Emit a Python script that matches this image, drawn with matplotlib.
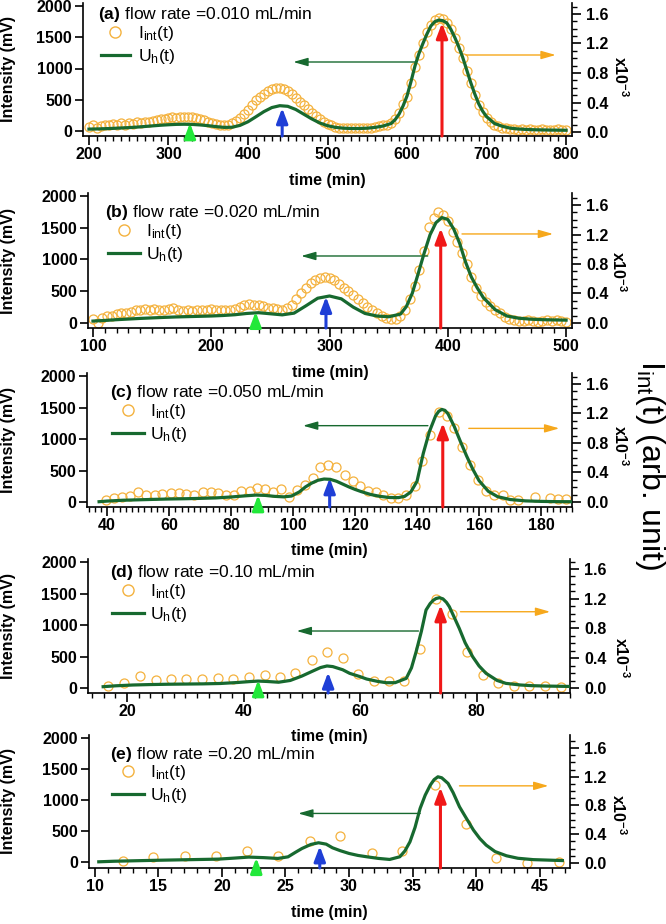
import numpy as np
import matplotlib
matplotlib.use('Agg')
import matplotlib.pyplot as plt
from matplotlib.lines import Line2D
from matplotlib.ticker import MultipleLocator

plt.rcParams['font.family'] = ['Liberation Sans', 'DejaVu Sans']
plt.rcParams['mathtext.fontset'] = 'custom'
plt.rcParams['mathtext.rm'] = 'Liberation Sans'
plt.rcParams['mathtext.bf'] = 'Liberation Sans:bold'
plt.rcParams['mathtext.it'] = 'Liberation Sans:italic'

# ---------------- data ----------------
flow_labels = ['0.010', '0.020', '0.050', '0.10', '0.20']
panel_tags = ['a', 'b', 'c', 'd', 'e']

# (a) 0.010 mL/min
t_a_circ = np.arange(200, 801, 5)
i_a = [0.07, 0.09, 0.05, 0.08, 0.10, 0.09, 0.11, 0.10, 0.12, 0.10, 0.12, 0.11, 0.13, 0.12, 0.14, 0.13, 0.15, 0.16, 0.17, 0.18,
       0.19, 0.20, 0.19, 0.21, 0.20, 0.21, 0.20, 0.19, 0.18, 0.16, 0.14, 0.12, 0.11, 0.10, 0.09, 0.10, 0.12, 0.15, 0.19, 0.25,
       0.30, 0.37, 0.43, 0.48, 0.52, 0.56, 0.58, 0.59, 0.59, 0.58, 0.55, 0.51, 0.46, 0.41, 0.36, 0.31, 0.26, 0.22, 0.18, 0.14,
       0.11, 0.09, 0.07, 0.06, 0.05, 0.05, 0.06, 0.05, 0.05, 0.06, 0.06, 0.06, 0.07, 0.08, 0.09, 0.10, 0.12, 0.17, 0.26, 0.38,
       0.48, 0.66, 0.88, 1.05, 1.20, 1.36, 1.45, 1.52, 1.55, 1.53, 1.48, 1.39, 1.28, 1.14, 1.00, 0.83, 0.66, 0.50, 0.37, 0.27,
       0.19, 0.14, 0.10, 0.08, 0.06, 0.05, 0.04, 0.04, 0.03, 0.04, 0.03, 0.04, 0.03, 0.03, 0.04, 0.03, 0.03, 0.03, 0.04, 0.03, 0.03]
t_a_line = [200, 210, 220, 230, 240, 250, 260, 270, 280, 290, 300, 310, 320, 330, 340, 350, 360, 370, 380, 390,
            400, 410, 420, 430, 440, 450, 460, 470, 480, 490, 500, 510, 520, 530, 540, 550, 560, 570, 580,
            585, 590, 595, 600, 605, 610, 615, 620, 625, 630, 635, 640, 645, 650, 655, 660, 665, 670, 675, 680,
            685, 690, 695, 700, 710, 720, 730, 740, 750, 760, 780, 800]
u_a = [30, 33, 37, 42, 48, 54, 62, 72, 82, 92, 100, 106, 108, 105, 97, 85, 70, 58, 60, 90,
       148, 228, 310, 375, 405, 395, 345, 270, 195, 130, 85, 58, 45, 40, 40, 45, 58, 80, 120,
       180, 270, 400, 560, 790, 1040, 1240, 1400, 1550, 1680, 1750, 1775, 1765, 1730, 1630, 1500, 1350, 1180, 980, 780,
       600, 440, 320, 230, 120, 75, 45, 32, 25, 20, 15, 12]

# (b) 0.020 mL/min
t_b_circ = np.arange(100, 501, 4)
i_b = [0.06, 0.00, 0.07, 0.09, 0.10, 0.12, 0.13, 0.14, 0.15, 0.17,
       0.18, 0.19, 0.18, 0.19, 0.18, 0.17, 0.19, 0.20, 0.17, 0.16,
       0.17, 0.16, 0.18, 0.17, 0.18, 0.19, 0.17, 0.18, 0.17, 0.18,
       0.19, 0.22, 0.25, 0.26, 0.25, 0.24, 0.23, 0.21, 0.20, 0.19,
       0.18, 0.20, 0.25, 0.32, 0.40, 0.48, 0.54, 0.58, 0.61, 0.62,
       0.61, 0.58, 0.53, 0.48, 0.43, 0.38, 0.32, 0.27, 0.22, 0.18,
       0.14, 0.10, 0.07, 0.05, 0.06, 0.10, 0.18, 0.32, 0.50, 0.72,
       0.98, 1.30, 1.42, 1.50, 1.47, 1.38, 1.24, 1.10, 0.95, 0.80,
       0.62, 0.48, 0.37, 0.29, 0.23, 0.17, 0.13, 0.08, 0.06, 0.04,
       0.03, 0.03, 0.04, 0.03, 0.02, 0.03, 0.04, 0.03, 0.04, 0.03, 0.02]
t_b_line = [100, 110, 120, 130, 140, 150, 160, 170, 180, 190, 200, 210, 220, 230, 240, 250, 260, 270, 280, 290,
            300, 310, 320, 330, 340, 350, 360, 365, 370, 375, 380, 385, 390, 395, 400, 405, 410, 415, 420, 425,
            430, 440, 450, 460, 470, 480, 490, 500]
u_b = [30, 40, 52, 62, 72, 80, 88, 95, 100, 105, 110, 118, 130, 150, 162, 145, 128, 155, 270, 390,
       425, 380, 250, 150, 110, 98, 140, 260, 470, 780, 1100, 1390, 1580, 1660, 1630, 1480, 1255, 960, 720, 550,
       400, 210, 110, 75, 60, 52, 48, 45]

# (c) 0.050 mL/min
t_c_circ = [39.7, 42.3, 44.9, 47.5, 49.9, 52.6, 55.3, 57.8, 60.5, 63.2, 65.6, 68.1, 70.8, 73.5, 75.9, 78.4, 80.8,
            83.3, 86.0, 88.5, 90.9, 93.6, 96.1, 98.7, 101.2, 103.7, 106.3, 108.8, 111.3, 113.9, 116.6, 119.3,
            121.5, 124.2, 126.6, 129.1, 131.6, 134.0, 136.4, 139.2, 141.6, 144.3, 147.0, 149.7, 151.9, 154.4,
            157.1, 159.8, 162.2, 164.9, 167.6, 170.0, 172.5, 177.9, 182.8, 185.5, 188.0]
i_c = [0.03, 0.06, 0.07, 0.08, 0.13, 0.10, 0.09, 0.11, 0.12, 0.12, 0.11, 0.10, 0.13, 0.13, 0.12, 0.09, 0.10,
       0.15, 0.15, 0.19, 0.17, 0.14, 0.17, 0.07, 0.16, 0.23, 0.32, 0.48, 0.50, 0.48, 0.37, 0.28,
       0.21, 0.15, 0.13, 0.09, 0.05, 0.06, 0.09, 0.21, 0.55, 0.91, 1.22, 1.16, 1.00, 0.75,
       0.50, 0.30, 0.15, 0.09, 0.10, 0.03, 0.03, 0.07, 0.06, 0.04, 0.04]
t_c_line = [37.4, 40, 45, 50, 55, 60, 65, 70, 75, 80, 85, 88, 91, 94, 97, 99.5, 102, 104, 106, 108,
            110, 112, 114, 116, 118, 120, 122, 125, 128, 131, 134, 136, 138, 140, 142, 144, 146, 147, 148, 149, 150, 152,
            154, 156, 158, 160, 163, 166, 170, 175, 180, 185, 189.5]
u_c = [5, 15, 28, 35, 42, 48, 52, 58, 65, 80, 100, 110, 105, 90, 82, 95, 160, 240, 300, 345,
       365, 360, 330, 285, 240, 200, 165, 120, 90, 72, 70, 90, 160, 330, 770, 1120, 1370, 1440, 1470, 1455, 1400, 1200,
       960, 730, 520, 340, 170, 85, 40, 18, 10, 6, 5]

# (d) 0.10 mL/min
t_d_circ = [16.8, 19.5, 22.2, 24.9, 27.6, 30.2, 32.9, 35.6, 38.2, 40.9, 43.6, 46.2, 48.9, 51.7, 54.3,
            57.0, 59.6, 62.3, 64.9, 67.6, 70.3, 73.0, 75.7, 78.3, 81.0, 83.7, 86.4, 89.0, 91.7, 94.4]
i_d = [0.03, 0.07, 0.16, 0.11, 0.12, 0.12, 0.12, 0.13, 0.12, 0.15, 0.17, 0.15, 0.20, 0.37, 0.48,
       0.40, 0.185, 0.095, 0.095, 0.095, 0.53, 1.19, 1.00, 0.49, 0.175, 0.07, 0.03, 0.03, 0.03, 0.02]
t_d_line = [15.9, 18, 21, 24, 27, 30, 33, 36, 39, 41, 42.5, 44, 46, 48, 50, 52, 53.2, 54.3, 55.3, 57, 58.2,
            60, 61.1, 63, 64.5, 66, 67.9, 68.8, 69.6, 70.5, 71.3, 72.0, 72.5, 73.0, 73.6, 74.2, 74.8, 75.3, 76.1, 77,
            78, 79.3, 80.4, 81.6, 83.5, 85, 87.5, 89.6, 92, 94.7, 96]
u_d = [21, 35, 48, 55, 60, 63, 66, 72, 88, 102, 110, 104, 92, 120, 190, 275, 325, 350, 340, 290, 233,
       180, 143, 105, 84, 85, 153, 320, 577, 900, 1238, 1340, 1390, 1420, 1434, 1415, 1360, 1291, 1130, 947,
       720, 497, 350, 233, 120, 74, 48, 37, 31, 27, 25]

# (e) 0.20 mL/min
t_e_circ = [12.2, 14.6, 17.1, 19.5, 22.0, 24.4, 26.9, 29.3, 31.8, 34.2, 36.8, 39.2, 41.6, 44.0, 46.5]
i_e = [0.03, 0.08, 0.10, 0.09, 0.16, 0.10, 0.30, 0.38, 0.135, 0.16, 1.09, 0.54, 0.065, 0.00, 0.02]
t_e_line = [10.3, 11.5, 13.2, 15, 17.1, 19.7, 21, 22.1, 23.3, 24.4, 25.2, 25.8, 26.3, 27, 27.6, 28.2, 28.7, 29.3,
            30.0, 30.7, 31.4, 32.3, 33.2, 34.0, 34.4, 34.8, 35.2, 35.6, 36.0, 36.4, 36.7, 37.0, 37.3, 37.8, 38.2,
            38.7, 39.2, 39.8, 40.3, 40.8, 41.5, 42.4, 43.3, 44.5, 46.8]
u_e = [5, 14, 22, 30, 38, 48, 65, 81, 72, 59, 85, 160, 220, 285, 312, 290, 231, 185,
       140, 108, 86, 60, 43, 86, 180, 327, 560, 866, 1080, 1242, 1330, 1376, 1360, 1269, 1120,
       892, 720, 516, 380, 274, 170, 102, 62, 40, 25]

circ_t = [t_a_circ, t_b_circ, t_c_circ, t_d_circ, t_e_circ]
circ_i = [i_a, i_b, i_c, i_d, i_e]
line_t = [t_a_line, t_b_line, t_c_line, t_d_line, t_e_line]
line_u = [u_a, u_b, u_c, u_d, u_e]

# peak markers (time, tip in mV)
green_t = [327, 237.5, 88.7, 42.5, 22.7]
green_tip = [128, 178, 111, 127, 70]
blue_t = [443, 297, 111.8, 54.5, 27.7]
blue_tip = [368, 414, 381, 249, 258]
red_t = [644, 394, 148.3, 73.8, 37.2]
red_tip = [1728, 1491, 1254, 1317, 1205]
# axis hint arrows: (from t, to t, level mV)
left_arrow = [(611, 457, 1104), (383, 276, 1055), (143.5, 103.2, 1212), (70.0, 49.1, 905), (35.6, 26.0, 785)]
right_arrow = [(674, 787, 1216), (412, 489, 1402), (156.7, 185.9, 1169), (77.2, 92.6, 1211), (38.7, 45.7, 1230)]

# ---------------- layout (pixels) ----------------
W, H = 666, 924
# x0, x1, y0, y1, xlim, xticks, minor step
boxes = [
    (83, 572, 3, 136, (192.5, 807.5), [200, 300, 400, 500, 600, 700, 800], 10),
    (88, 572, 193, 328, (95.8, 505.0), [100, 200, 300, 400, 500], 10),
    (87, 572, 373, 507, (33.5, 190.0), [40, 60, 80, 100, 120, 140, 160, 180], 2),
    (88, 570, 559, 693, (13.3, 96.0), [20, 40, 60, 80], 2),
    (89, 570, 735, 868, (9.53, 47.4), [10, 15, 20, 25, 30, 35, 40, 45], 1),
]
ylims = [(-80, 2048), (-79, 2047), (-79, 2048), (-79, 2048), (-95, 2050)]
y2lims = [(-0.054, 1.749), (-0.068, 1.763), (-0.068, 1.749), (-0.067, 1.734), (-0.07, 1.78)]
title_pos = [(98, 14), (105, 212), (110, 392), (110, 573), (110, 755)]
legend_pos = [(101, 24), (108, 222), (112, 402), (112, 582), (112, 763)]
x10_pos = [(620, 77), (618, 272), (620, 446), (621, 658), (618, 815)]

GREEN = '#17692f'
ORANGE = '#f4b23e'
ORANGE_AR = '#f6a81c'
LIME = '#22e83a'
BLUE = '#1f3fd6'
RED = '#f01818'
FS = 11.5
FS_LEG = 12.6

fig = plt.figure(figsize=(W / 100, H / 100), dpi=100)

for k in range(5):
    x0, x1, y0, y1, xlim, xt, mnr = boxes[k]
    ax = fig.add_axes([x0 / W, 1 - y1 / H, (x1 - x0) / W, (y1 - y0) / H])
    ax2 = ax.twinx()
    ax.set_zorder(ax2.get_zorder() + 1)
    ax.patch.set_visible(False)

    def fx(px):
        return (px - x0) / (x1 - x0)

    def fy(py):
        return (y1 - py) / (y1 - y0)

    ax2.plot(circ_t[k], circ_i[k], 'o', mfc='none', mec=ORANGE, ms=6.5, mew=0.9)
    ax.plot(line_t[k], line_u[k], '-', color=GREEN, lw=2.3)

    ax.set_xlim(*xlim)
    ax.set_ylim(*ylims[k])
    ax2.set_ylim(*y2lims[k])

    for s in ['top', 'right']:
        ax.spines[s].set_visible(False)
    for s in ['top', 'left', 'bottom']:
        ax2.spines[s].set_visible(False)
    for sp in [ax.spines['left'], ax.spines['bottom'], ax2.spines['right']]:
        sp.set_linewidth(1.2)

    ax.set_xticks(xt)
    ax.set_xticklabels([str(v) for v in xt], fontweight='bold', fontsize=FS)
    ax.xaxis.set_minor_locator(MultipleLocator(mnr))
    ax.set_yticks([0, 500, 1000, 1500, 2000])
    ax.set_yticklabels(['0', '500', '1000', '1500', '2000'], fontweight='bold', fontsize=FS)
    ax2.set_yticks([0, 0.4, 0.8, 1.2, 1.6])
    ax2.set_yticklabels(['0.0', '0.4', '0.8', '1.2', '1.6'], fontweight='bold', fontsize=FS)
    ax2.yaxis.set_minor_locator(MultipleLocator(0.1))

    ax.tick_params(axis='x', which='major', direction='out', length=6.5, width=1.2, pad=1.5, top=False)
    ax.tick_params(axis='x', which='minor', direction='out', length=3.6, width=1.0, top=False)
    ax.tick_params(axis='y', which='major', direction='out', length=5.8, width=1.2, pad=2, right=False)
    ax2.tick_params(axis='y', which='major', direction='out', length=6.5, width=1.2, pad=3.5)
    ax2.tick_params(axis='y', which='minor', direction='out', length=3.6, width=1.0)

    ax.set_xlabel('time (min)', fontweight='bold', fontsize=FS)
    ax.xaxis.label.set_va('center')
    ax.xaxis.set_label_coords(0.5, fy(y1 + 44))
    ax.set_ylabel('Intensity (mV)', fontweight='bold', fontsize=FS)
    ax.yaxis.set_label_coords(fx(16), 0.5)

    # title + legend
    tx, ty = title_pos[k]
    ax.text(fx(tx), fy(ty), r'$\mathbf{(' + panel_tags[k] + ')}$ flow rate =' + flow_labels[k] + ' mL/min',
            transform=ax.transAxes, fontsize=FS_LEG, va='center', ha='left')
    lx, ly = legend_pos[k]
    handles = [Line2D([], [], ls='none', marker='o', mfc='none', mec=ORANGE, ms=8, mew=1.0),
               Line2D([], [], color=GREEN, lw=2.3)]
    ax.legend(handles, [r'$\mathrm{I_{int}(t)}$', r'$\mathrm{U_h(t)}$'], loc='upper left',
              bbox_to_anchor=(fx(lx), fy(ly)), bbox_transform=ax.transAxes, frameon=False,
              borderpad=0, borderaxespad=0, handlelength=1.65 if k == 0 else 1.85,
              handletextpad=0.45 if k == 0 else 0.3, labelspacing=0.22, fontsize=FS_LEG)

    # peak arrows
    ylo = ylims[k][0]
    vstyle = '-|>,head_length=0.45,head_width=0.17'
    for tt, tip, col in [(green_t[k], green_tip[k], LIME), (blue_t[k], blue_tip[k], BLUE),
                         (red_t[k], red_tip[k], RED)]:
        ax.annotate('', xy=(tt, tip), xytext=(tt, ylo),
                    arrowprops=dict(arrowstyle=vstyle, color=col, lw=2.2, mutation_scale=20,
                                    shrinkA=0, shrinkB=0))
    hstyle = '-|>,head_length=0.7,head_width=0.2'
    a0, a1, ay = left_arrow[k]
    ax.annotate('', xy=(a1, ay), xytext=(a0, ay),
                arrowprops=dict(arrowstyle=hstyle, color=GREEN, lw=1.0, mutation_scale=12.5,
                                shrinkA=0, shrinkB=0))
    b0, b1, by = right_arrow[k]
    ax.annotate('', xy=(b1, by), xytext=(b0, by),
                arrowprops=dict(arrowstyle=hstyle, color=ORANGE_AR, lw=1.0, mutation_scale=12.5,
                                shrinkA=0, shrinkB=0))

    px, py = x10_pos[k]
    ax2.text(fx(px), fy(py), r'$\mathbf{x10^{-3}}$', transform=ax2.transAxes, rotation=-90,
             ha='center', va='center', fontsize=FS)

fig.text(650 / W, 1 - 465 / H, r'$\mathrm{I_{int}}$(t) (arb. unit)', rotation=-90,
         ha='center', va='center', fontsize=23)

fig.savefig('out.png', dpi=100)
